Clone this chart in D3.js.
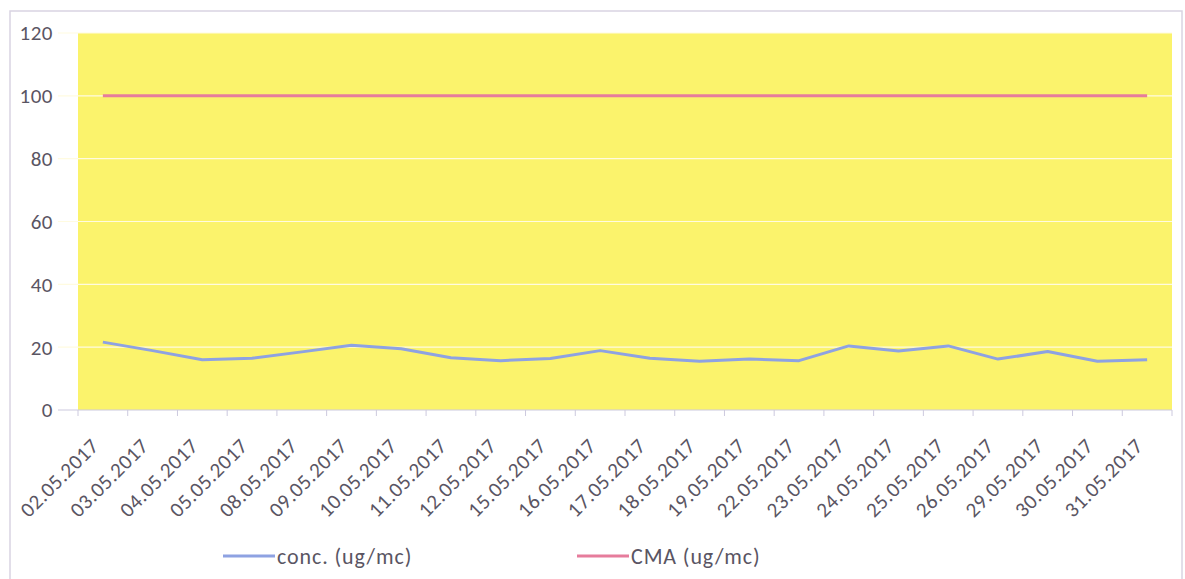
<!DOCTYPE html>
<html>
<head>
<meta charset="utf-8">
<script src="https://cdn.jsdelivr.net/npm/d3@7"></script>
<style>
  body { margin: 0; background: #fff; }
  svg { display: block; }
</style>
</head>
<body>
<div id="chart"></div>
<script>
// category labels (dates)
var dates = ["02.05.2017", "03.05.2017", "04.05.2017", "05.05.2017", "08.05.2017",
  "09.05.2017", "10.05.2017", "11.05.2017", "12.05.2017", "15.05.2017", "16.05.2017",
  "17.05.2017", "18.05.2017", "19.05.2017", "22.05.2017", "23.05.2017", "24.05.2017",
  "25.05.2017", "26.05.2017", "29.05.2017", "30.05.2017", "31.05.2017"];
// concentration series
var conc = [21.6, 18.9, 16.0, 16.5, 18.5, 20.6, 19.5, 16.6, 15.7, 16.4, 18.9,
  16.5, 15.5, 16.2, 15.7, 20.4, 18.8, 20.4, 16.2, 18.6, 15.5, 16.0];
// limit series
var cma = [100, 100, 100, 100, 100, 100, 100, 100, 100, 100, 100,
  100, 100, 100, 100, 100, 100, 100, 100, 100, 100, 100];
var yTicks = [0, 20, 40, 60, 80, 100, 120];
var seriesNames = ["conc. (ug/mc)", "CMA (ug/mc)"];

var width = 1185, height = 579;
var margin = {top: 33, right: 13, bottom: 169, left: 78};
var chartWidth = width - margin.left - margin.right;
var chartHeight = height - margin.top - margin.bottom;
var blue = "#8ea2e2", pink = "#e67c9c", textColor = "#5a5563";
var fontFamily = "Carlito, 'Open Sans', sans-serif";

var svg = d3.select("#chart").append("svg")
  .attr("width", width).attr("height", height)
  .style("font-family", fontFamily);

// outer chart border
svg.append("rect")
  .attr("x", 10).attr("y", 11)
  .attr("width", 1172).attr("height", 575)
  .attr("fill", "none").attr("stroke", "#d9d4e2").attr("stroke-width", 1.5);

var x = d3.scaleBand().domain(dates).range([0, chartWidth]);
var y = d3.scaleLinear().domain([0, 120]).range([chartHeight, 0]);

var g = svg.append("g")
  .attr("transform", "translate(" + margin.left + "," + margin.top + ")");

// plot background
g.append("rect")
  .attr("width", chartWidth).attr("height", chartHeight)
  .attr("fill", "#fbf36c");

// gridlines
g.append("g").selectAll("line")
  .data(yTicks.slice(1)).enter().append("line")
  .attr("x1", -20).attr("x2", chartWidth)
  .attr("y1", function (d) { return y(d); })
  .attr("y2", function (d) { return y(d); })
  .attr("stroke", "#fffbe0").attr("stroke-width", 1.2);

// y labels
g.append("g").selectAll("text")
  .data(yTicks).enter().append("text")
  .attr("x", -25).attr("y", function (d) { return y(d); })
  .attr("dy", "0.35em").attr("text-anchor", "end")
  .attr("fill", textColor).attr("font-size", 21)
  .attr("letter-spacing", 0.5)
  .text(function (d) { return d; });

// x axis
var xAxis = d3.axisBottom(x).tickSize(0);
g.append("g")
  .attr("transform", "translate(0," + chartHeight + ")")
  .call(function (s) {
    s.call(xAxis);
    s.attr("font-family", fontFamily);
    s.select(".domain").attr("stroke", "#ccc9de").attr("d", "M-20,0H" + chartWidth);
    s.selectAll(".tick text")
      .attr("fill", textColor).attr("font-size", 21)
      .attr("letter-spacing", 0.5)
      .attr("text-anchor", "end")
      .attr("transform", "translate(-8,32) rotate(-45)")
      .attr("y", 0).attr("dy", "0.35em");
  });
// boundary tick marks
g.append("g").selectAll("line")
  .data(d3.range(dates.length + 1)).enter().append("line")
  .attr("x1", function (i) { return i * x.step(); })
  .attr("x2", function (i) { return i * x.step(); })
  .attr("y1", chartHeight).attr("y2", chartHeight + 6)
  .attr("stroke", "#ccc9de");

var line = d3.line()
  .x(function (d, i) { return x(dates[i]) + x.bandwidth() / 2; })
  .y(function (d) { return y(d); });

g.append("path").datum(cma)
  .attr("d", line).attr("fill", "none")
  .attr("stroke", pink).attr("stroke-width", 3);
g.append("path").datum(conc)
  .attr("d", line).attr("fill", "none")
  .attr("stroke", blue).attr("stroke-width", 3).attr("stroke-linejoin", "round");

// legend
var legend = svg.append("g");
var legendItems = [{name: seriesNames[0], color: blue, x: 223}, {name: seriesNames[1], color: pink, x: 577}];
legendItems.forEach(function (d) {
  legend.append("line")
    .attr("x1", d.x).attr("x2", d.x + 52)
    .attr("y1", 556).attr("y2", 556)
    .attr("stroke", d.color).attr("stroke-width", 3);
  legend.append("text")
    .attr("x", d.x + 54).attr("y", 556).attr("dy", "0.35em")
    .attr("fill", textColor).attr("font-size", 22)
    .attr("letter-spacing", 0.9)
    .text(d.name);
});
</script>
</body>
</html>
